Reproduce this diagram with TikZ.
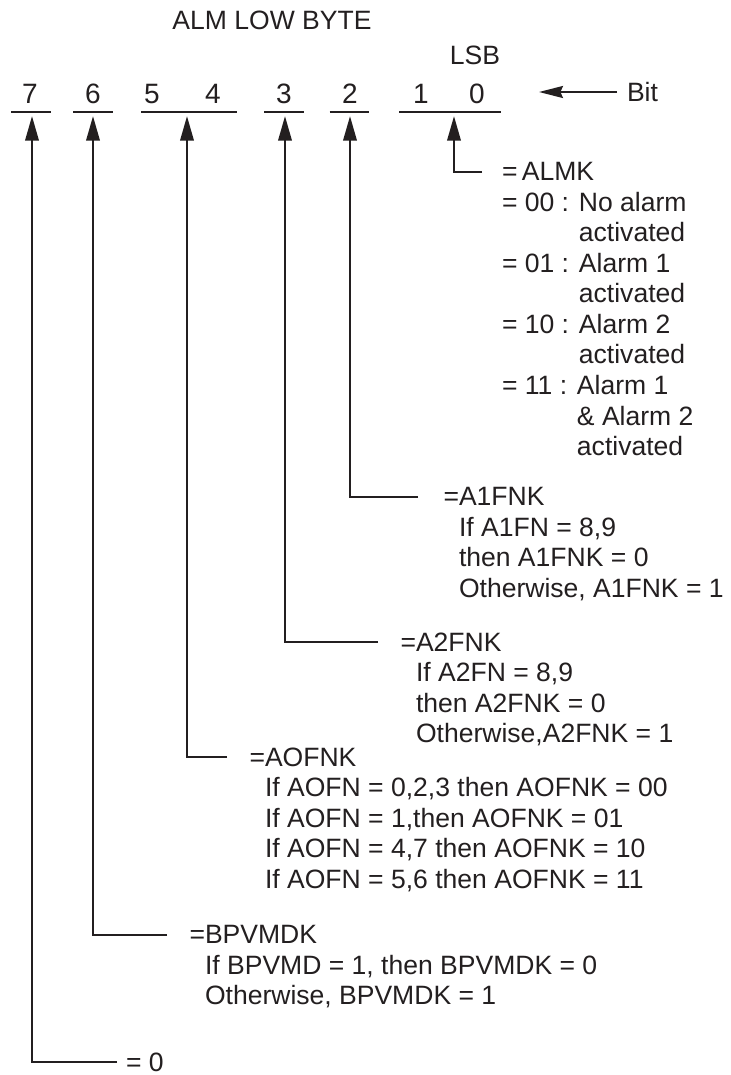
\documentclass[tikz,border=0pt]{standalone}
\usepackage{fontspec}
\setmainfont{Liberation Sans}
\usetikzlibrary{arrows.meta}
\definecolor{ink}{HTML}{231F20}
\begin{document}
\begin{tikzpicture}[x=0.75pt,y=-0.75pt,
  txt/.style={inner sep=0pt, outer sep=0pt, text=ink, align=left, anchor=north west,
              font=\fontsize{19.9}{22.9}\selectfont},
  ttl/.style={inner sep=0pt, outer sep=0pt, text=ink, font=\fontsize{19.9}{22.9}\selectfont},
  dig/.style={inner sep=0pt, outer sep=0pt, text=ink, font=\fontsize{21}{25}\selectfont},
  ubar/.style={inner sep=0pt, outer sep=0pt, minimum height=0pt, minimum width={#1*0.75pt}},
  barline/.style={draw=ink, line width=2pt},
  conn/.style={draw=ink, line width=1.9pt, shorten >=3pt,
               -{Triangle[length=18.5pt,width=10pt]}},
  bitarrow/.style={draw=ink, line width=1.6pt,
               -{Stealth[length=18pt,width=9pt,inset=2pt]}}
]
\useasboundingbox (0,0) rectangle (731,1075);
\fill[white] (0,0) rectangle (731,1075);

% title and header
\node[ttl] (title) at (272,20) {ALM LOW BYTE};
\node[ttl] (lsb) at (475,55) {LSB};
\node[ttl, anchor=west] (bit) at (627,92) {Bit};
\coordinate (bittip) at (539,92);
\draw[bitarrow] ([xshift=-7.5pt]bit.west) -- (bittip);

% digits
\node[dig] (d7) at (30,94) {7};
\node[dig] (d6) at (93,94) {6};
\node[dig] (d5) at (152,94) {5};
\node[dig] (d4) at (213,94) {4};
\node[dig] (d3) at (284,94) {3};
\node[dig] (d2) at (350,94) {2};
\node[dig] (d1) at (421,94) {1};
\node[dig] (d0) at (477,94) {0};

% underlines
\node[ubar=40] (b7) at (31,112) {};
\node[ubar=40] (b6) at (93,112) {};
\node[ubar=96] (b54) at (189,112) {};
\node[ubar=40] (b3) at (284,112) {};
\node[ubar=39] (b2) at (349,112) {};
\node[ubar=102] (b10) at (450,112) {};
\foreach \b in {b7,b6,b54,b3,b2,b10}
  \draw[barline] (\b.west) -- (\b.east);

% description blocks
\node[txt] (almk) at (502,162.5) {=\,ALMK\\
= 00 : No alarm\\
\phantom{= 00 : }activated\\
= 01 : Alarm 1\\
\phantom{= 01 : }activated\\
= 10 : Alarm 2\\
\phantom{= 10 : }activated\\
= 11 : Alarm 1\\
\phantom{= 11 : }\& Alarm 2\\
\phantom{= 11 : }activated};

\node[txt] (a1fnk) at (459,487.5) {\llap{=}A1FNK\\
If A1FN = 8,9\\
then A1FNK = 0\\
Otherwise, A1FNK = 1};

\node[txt] (a2fnk) at (416,632.5) {\llap{=}A2FNK\\
If A2FN = 8,9\\
then A2FNK = 0\\
Otherwise,A2FNK = 1};

\node[txt] (aofnk) at (265,747.5) {\llap{=}AOFNK\\
If AOFN = 0,2,3 then AOFNK = 00\\
If AOFN = 1,then AOFNK = 01\\
If AOFN = 4,7 then AOFNK = 10\\
If AOFN = 5,6 then AOFNK = 11};

\node[txt] (bpvmdk) at (205,925.5) {\llap{=}BPVMDK\\
If BPVMD = 1, then BPVMDK = 0\\
Otherwise, BPVMDK = 1};

\node[txt] (zero) at (126,1052.5) {= 0};

% connector free ends (next to each description)
\coordinate (e10) at (482,172);
\coordinate (e2) at (418,497);
\coordinate (e3) at (378,642);
\coordinate (e54) at (227,757);
\coordinate (e6) at (167,935);
\coordinate (e7) at (117,1062);

\draw[conn] (e10) -| ([xshift=3pt]b10.south);
\draw[conn] (e2) -| ([xshift=0.75pt]b2.south);
\draw[conn] (e3) -| ([xshift=0.75pt]b3.south);
\draw[conn] (e54) -| ([xshift=-1.5pt]b54.south);
\draw[conn] (e6) -| (b6.south);
\draw[conn] (e7) -| ([xshift=0.75pt]b7.south);
\end{tikzpicture}
\end{document}
